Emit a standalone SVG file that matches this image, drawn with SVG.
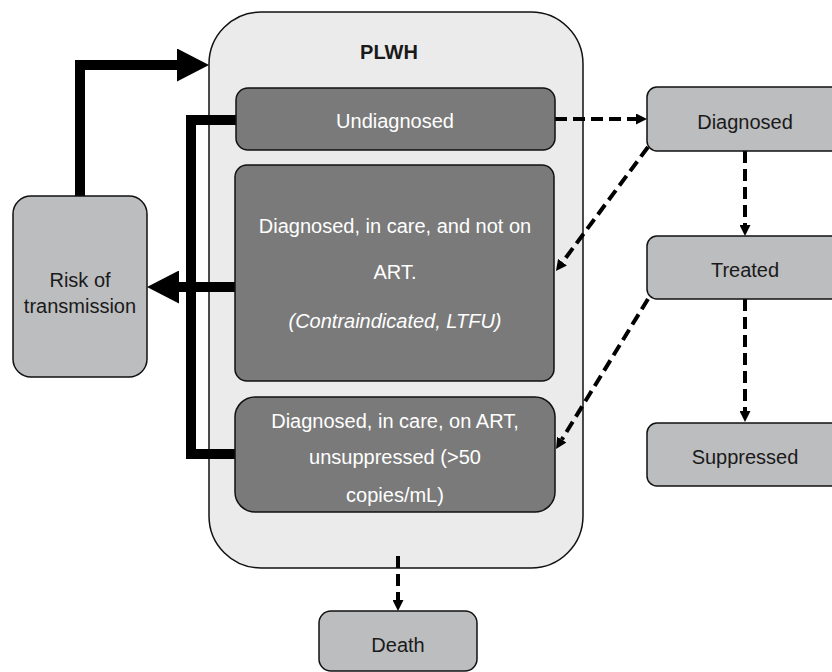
<svg xmlns="http://www.w3.org/2000/svg" width="832" height="672" viewBox="0 0 832 672">
<defs>
<style>
.t{font-family:"Liberation Sans",Arial,sans-serif;font-size:20px;text-anchor:middle}
.dk{fill:#7a7a7a;stroke:#111;stroke-width:1.5}
.lt{fill:#bcbdbf;stroke:#111;stroke-width:1.5}
.w{fill:#ffffff}
.b{fill:#1a1a1a}
.thick{fill:none;stroke:#000;stroke-width:10}
.dash{fill:none;stroke:#000;stroke-width:4;stroke-dasharray:12 6}
</style>
<marker id="big" markerUnits="userSpaceOnUse" viewBox="0 0 32 33" refX="0" refY="16.5" markerWidth="32" markerHeight="33" orient="auto">
<path d="M0,0 L32,16.5 L0,33 z" fill="#000"/>
</marker>
<marker id="sm" markerUnits="userSpaceOnUse" viewBox="0 0 11 11" refX="0" refY="5.5" markerWidth="11" markerHeight="11" orient="auto">
<path d="M0,0 L11,5.5 L0,11 z" fill="#000"/>
</marker>
</defs>
<rect width="832" height="672" fill="#fff"/>
<g id="plwh">
<rect x="209" y="12" width="374" height="556" rx="52" fill="#ebebeb" stroke="#111" stroke-width="1.5"/>
<text class="t b" x="389" y="59" font-weight="bold">PLWH</text>
</g>
<g id="connectors">
<path class="thick" d="M80,196 V65 H177" marker-end="url(#big)"/>
<path class="thick" d="M236,120 H191 V454 H236"/>
<path class="thick" d="M236,287 H179" marker-end="url(#big)"/>
<path class="dash" d="M555,119 H636" marker-end="url(#sm)"/>
<path class="dash" d="M648,147 L562.5,262.2" marker-end="url(#sm)"/>
<path class="dash" d="M745,151 V225" marker-end="url(#sm)"/>
<path class="dash" d="M648,299 L561.8,439.6" marker-end="url(#sm)"/>
<path class="dash" d="M745,299 V411" marker-end="url(#sm)"/>
<path class="dash" d="M398,556 V600" marker-end="url(#sm)"/>
</g>
<g id="undiagnosed">
<rect class="dk" x="236" y="88" width="319" height="62" rx="12"/>
<text class="t w" x="395" y="128">Undiagnosed</text>
</g>
<g id="notart">
<rect class="dk" x="235" y="165" width="319" height="216" rx="12"/>
<text class="t w" x="395" y="233">Diagnosed, in care, and not on</text>
<text class="t w" x="395" y="279">ART.</text>
<text class="t w" x="395" y="328" font-style="italic">(Contraindicated, LTFU)</text>
</g>
<g id="unsuppressed">
<rect class="dk" x="235" y="397" width="320" height="115" rx="20"/>
<text class="t w" x="395" y="428">Diagnosed, in care, on ART,</text>
<text class="t w" x="395" y="464">unsuppressed (&gt;50</text>
<text class="t w" x="395" y="502">copies/mL)</text>
</g>
<g id="risk">
<rect class="lt" x="13" y="196" width="134" height="181" rx="18"/>
<text class="t b" x="80" y="287">Risk of</text>
<text class="t b" x="80" y="313">transmission</text>
</g>
<g id="diagnosed">
<rect class="lt" x="647" y="87" width="196" height="64" rx="10"/>
<text class="t b" x="745" y="129">Diagnosed</text>
</g>
<g id="treated">
<rect class="lt" x="647" y="236" width="196" height="63" rx="10"/>
<text class="t b" x="745" y="277">Treated</text>
</g>
<g id="suppressed">
<rect class="lt" x="647" y="423" width="196" height="63" rx="10"/>
<text class="t b" x="745" y="464">Suppressed</text>
</g>
<g id="death">
<rect class="lt" x="319" y="611" width="158" height="60" rx="12"/>
<text class="t b" x="398" y="652">Death</text>
</g>
</svg>
